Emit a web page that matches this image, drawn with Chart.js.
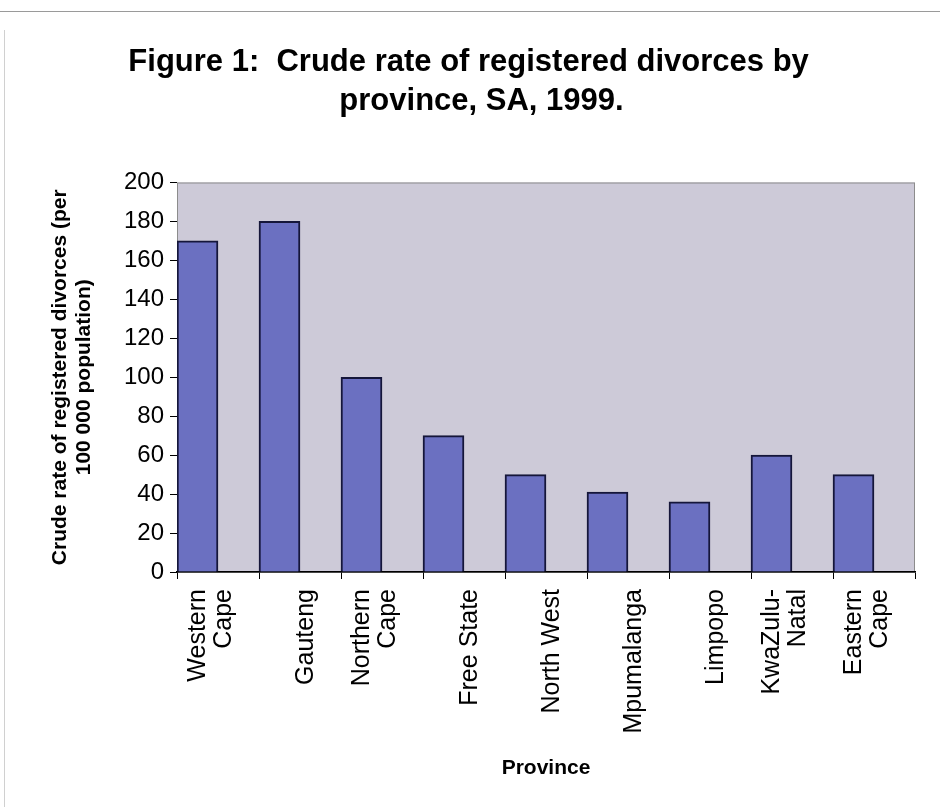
<!DOCTYPE html>
<html>
<head>
<meta charset="utf-8">
<title>Crude rate of registered divorces by province, SA, 1999</title>
<script src="https://cdn.jsdelivr.net/npm/chart.js@4.4.0/dist/chart.umd.min.js"></script>
<style>
  html, body { margin: 0; padding: 0; background: #ffffff; }
  #wrap { position: relative; width: 940px; height: 807px; }
  #topline { position: absolute; left: 0; top: 11px; width: 940px; height: 1px; background: #9a9a9a; }
  #leftline { position: absolute; left: 4px; top: 30px; width: 1px; height: 777px; background: #d0d0d0; }
  canvas { position: absolute; left: 0; top: 0; }
</style>
</head>
<body>
<div id="wrap">
  <div id="topline"></div>
  <div id="leftline"></div>
  <canvas id="chart" width="940" height="807"></canvas>
</div>
<script>
const provinces = [
  ['Western', 'Cape'], 'Gauteng', ['Northern', 'Cape'], 'Free State', 'North West',
  'Mpumalanga', 'Limpopo', ['KwaZulu-', 'Natal'], ['Eastern', 'Cape']
]
const divorceRate = [170, 180, 100, 70, 50, 41, 36, 60, 50]
const emptySeries = [null, null, null, null, null, null, null, null, null]
const yTicks = [0, 20, 40, 60, 80, 100, 120, 140, 160, 180, 200]

const FONT = "'Liberation Sans', Arial, sans-serif"

// grey plot background with thin frame
const plotBackground = {
  id: 'plotBackground',
  beforeDraw(chart) {
    const { ctx, chartArea: a } = chart
    ctx.save()
    ctx.fillStyle = '#cdcad8'
    ctx.fillRect(a.left, a.top, a.right - a.left, a.bottom - a.top)
    ctx.strokeStyle = '#8c8c8c'
    ctx.lineWidth = 1
    ctx.strokeRect(a.left + 0.5, a.top + 0.5, a.right - a.left - 1, a.bottom - a.top)
    ctx.restore()
  }
}

let ctx = document.getElementById('chart')

const chart = new Chart(ctx, {
  type: 'bar',
  data: {
    labels: provinces,
    datasets: [{
      data: divorceRate,
      backgroundColor: '#6b70c1',
      borderColor: '#15163a',
      borderWidth: 2,
      borderSkipped: 'bottom'
    }, {
      data: emptySeries
    }]
  },
  options: {
    responsive: false,
    animation: false,
    layout: { padding: { left: 48, right: 25, top: 43, bottom: 26 } },
    plugins: {
      legend: { display: false },
      tooltip: { enabled: false },
      title: {
        display: true,
        text: ['Figure 1:  Crude rate of registered divorces by   ', 'province, SA, 1999.'],
        color: '#000',
        font: { family: FONT, size: 31, weight: 'bold', lineHeight: 1.25 },
        padding: { top: 0, bottom: 62 }
      }
    },
    datasets: { bar: { categoryPercentage: 1.0, barPercentage: 1.0 } },
    scales: {
      x: {
        afterFit: (s) => { s.height = 209 },
        grid: { offset: true, drawOnChartArea: false, drawTicks: true, tickLength: 7, color: '#000' },
        border: { display: true, color: '#000', width: 1.5 },
        ticks: {
          color: '#000',
          minRotation: 90,
          maxRotation: 90,
          padding: 10,
          labelOffset: -20,
          // single-line names sit in the second line slot, like the original
          callback: function (value) {
            const l = this.getLabelForValue(value)
            return Array.isArray(l) ? l : ['', l]
          },
          font: { family: FONT, size: 25, lineHeight: 1.05 }
        },
        title: {
          display: true,
          text: 'Province',
          color: '#000',
          font: { family: FONT, size: 21, weight: 'bold' },
          padding: { top: 0, bottom: 0 }
        }
      },
      y: {
        min: 0,
        max: 200,
        afterFit: (s) => { s.width = 129 },
        afterBuildTicks: (s) => { s.ticks = yTicks.map(v => ({ value: v })) },
        grid: { drawOnChartArea: false, drawTicks: true, tickLength: 7, color: '#000' },
        border: { display: false },
        ticks: {
          color: '#000',
          padding: 6,
          font: { family: FONT, size: 24 }
        },
        title: {
          display: true,
          text: ['Crude rate of registered divorces (per', '100 000 population)'],
          color: '#000',
          font: { family: FONT, size: 21, weight: 'bold', lineHeight: 1.15 },
          padding: { top: 0, bottom: 0 }
        }
      }
    }
  },
  plugins: [plotBackground]
})
</script>
</body>
</html>
